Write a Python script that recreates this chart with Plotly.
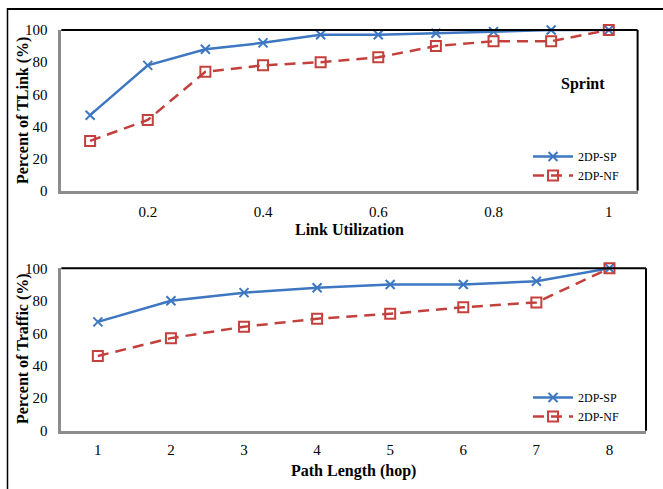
import plotly.graph_objects as go

# Link utilisation vs share of TLinks (Sprint topology)
util = [0.1, 0.2, 0.3, 0.4, 0.5, 0.6, 0.7, 0.8, 0.9, 1.0]
util_sp = [47, 78, 88, 92, 97, 97, 98, 99, 100, 100]
util_nf = [31, 44, 74, 78, 80, 83, 90, 93, 93, 100]
util_ticks = [0.2, 0.4, 0.6, 0.8, 1.0]
util_ticktext = ["0.2", "0.4", "0.6", "0.8", "1"]

# Path length vs share of traffic
hops = [1, 2, 3, 4, 5, 6, 7, 8]
hop_sp = [67, 80, 85, 88, 90, 90, 92, 100]
hop_nf = [46, 57, 64, 69, 72, 76, 79, 100]

y_ticks = [0, 20, 40, 60, 80, 100]

W, H = 663, 489
BLUE = "#3D77C2"
RED = "#C3403D"
FONT = "Times New Roman, Liberation Serif, serif"


def px_x(v):
    return v / W


def px_y(v):
    return 1 - v / H


fig = go.Figure()

sp_style = dict(mode="lines+markers", line=dict(color=BLUE, width=2.5),
                marker=dict(symbol="x-thin", size=9, line=dict(color=BLUE, width=2)),
                cliponaxis=False)
nf_style = dict(mode="lines+markers", line=dict(color=RED, width=2.5, dash="11px,7px"),
                marker=dict(symbol="square-open", size=10, color=RED, line=dict(color=RED, width=2)),
                cliponaxis=False)

fig.add_trace(go.Scatter(x=util, y=util_sp, name="2DP-SP", xaxis="x", yaxis="y",
                         legend="legend", **sp_style))
fig.add_trace(go.Scatter(x=util, y=util_nf, name="2DP-NF", xaxis="x", yaxis="y",
                         legend="legend", **nf_style))
fig.add_trace(go.Scatter(x=hops, y=hop_sp, name="2DP-SP", xaxis="x2", yaxis="y2",
                         legend="legend2", **sp_style))
fig.add_trace(go.Scatter(x=hops, y=hop_nf, name="2DP-NF", xaxis="x2", yaxis="y2",
                         legend="legend2", **nf_style))

axis_common = dict(showgrid=False, zeroline=False, showline=True, linecolor="#8C8C8C",
                   linewidth=2.5, ticks="", automargin=False,
                   tickfont=dict(family=FONT, size=15, color="black"))

top_dom_x = [px_x(61.3), px_x(637.6)]
top_dom_y = [px_y(190.7), px_y(30)]
bot_dom_x = [px_x(61.3), px_x(646)]
bot_dom_y = [px_y(430.7), px_y(268.3)]

fig.update_layout(
    width=W, height=H,
    margin=dict(l=0, r=0, t=0, b=0, pad=0, autoexpand=False),
    paper_bgcolor="white", plot_bgcolor="white",
    font=dict(family=FONT, color="black"),
    xaxis=dict(domain=top_dom_x, anchor="y", range=[0.05, 1.05],
               tickvals=util_ticks, ticktext=util_ticktext, ticklabelstandoff=6, **axis_common),
    yaxis=dict(domain=top_dom_y, anchor="x", range=[0, 100], tickvals=y_ticks,
               ticklabelstandoff=8, **axis_common),
    xaxis2=dict(domain=bot_dom_x, anchor="y2", range=[0.5, 8.5],
                tickvals=hops, ticklabelstandoff=4, **axis_common),
    yaxis2=dict(domain=bot_dom_y, anchor="x2", range=[0, 100], tickvals=y_ticks,
                ticklabelstandoff=8, **axis_common),
    legend=dict(x=px_x(528), y=px_y(142), xanchor="left", yanchor="top",
                bgcolor="rgba(0,0,0,0)", font=dict(family=FONT, size=12),
                itemwidth=40, tracegroupgap=0),
    legend2=dict(x=px_x(528), y=px_y(383), xanchor="left", yanchor="top",
                 bgcolor="rgba(0,0,0,0)", font=dict(family=FONT, size=12),
                 itemwidth=40, tracegroupgap=0),
    showlegend=True,
)

shapes = []
# black frame on the top and right of each plot area
for xr, yr in (("x domain", "y domain"), ("x2 domain", "y2 domain")):
    shapes.append(dict(type="line", xref=xr, yref=yr, x0=0, x1=1, y0=1, y1=1,
                       line=dict(color="black", width=2)))
    shapes.append(dict(type="line", xref=xr, yref=yr, x0=1, x1=1, y0=0, y1=1,
                       line=dict(color="black", width=2)))
# outer border of the figure
shapes.append(dict(type="line", xref="paper", yref="paper", x0=px_x(7), x1=1,
                   y0=px_y(9), y1=px_y(9), line=dict(color="black", width=2)))
shapes.append(dict(type="line", xref="paper", yref="paper", x0=px_x(7.5), x1=px_x(7.5),
                   y0=0, y1=px_y(8), line=dict(color="black", width=1.5)))
fig.update_layout(shapes=shapes)

title_font = dict(family=FONT, size=16, color="black")
centred = dict(xref="paper", yref="paper", xanchor="center", yanchor="middle",
               showarrow=False, font=title_font)
annotations = [
    dict(text="<b>Percent of TLink (%)</b>", x=px_x(23), y=px_y(111), textangle=-90, **centred),
    dict(text="<b>Link Utilization</b>", x=px_x(349), y=px_y(229), **centred),
    dict(text="<b>Sprint</b>", x=px_x(583), y=px_y(84), **centred),
    dict(text="<b>Percent of Traffic (%)</b>", x=px_x(23), y=px_y(349), textangle=-90, **centred),
    dict(text="<b>Path Length (hop)</b>", x=px_x(353), y=px_y(471), **centred),
]
fig.update_layout(annotations=annotations)

fig.write_html("out.html")
